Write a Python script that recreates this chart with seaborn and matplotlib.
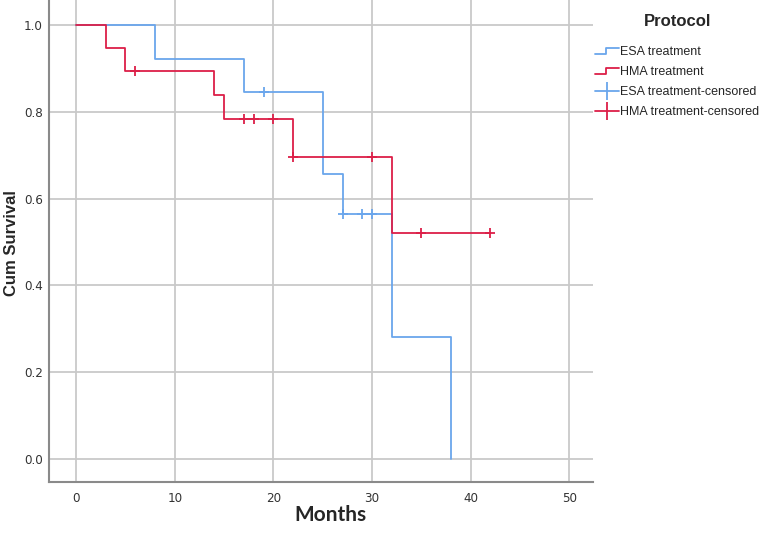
import numpy as np
import pandas as pd
import matplotlib
matplotlib.use("Agg")
import matplotlib.pyplot as plt
import seaborn as sns
from matplotlib.lines import Line2D
from matplotlib.legend_handler import HandlerBase

# Kaplan-Meier step points
esa_months = [0, 8, 17, 25, 27, 32, 38]
esa_surv = [1.0, 0.923, 0.846, 0.658, 0.564, 0.282, 0.0]
hma_months = [0, 3, 5, 14, 15, 22, 32, 42]
hma_surv = [1.0, 0.947, 0.895, 0.839, 0.783, 0.697, 0.522, 0.522]

# censored observations
esa_cens_months = [19, 27, 29, 30]
esa_cens_surv = [0.846, 0.564, 0.564, 0.564]
hma_cens_months = [6, 17, 18, 20, 22, 30, 35, 42]
hma_cens_surv = [0.895, 0.783, 0.783, 0.783, 0.697, 0.697, 0.522, 0.522]

x_ticks = [0, 10, 20, 30, 40, 50]
y_ticks = [0.0, 0.2, 0.4, 0.6, 0.8, 1.0]

blue = "#6aa6ec"
red = "#dc1f48"

sns.set_style("white")
plt.rcParams['font.family'] = ['Liberation Sans', 'DejaVu Sans']

fig = plt.figure(figsize=(7.62, 5.48), dpi=100)
ax = fig.add_axes([0.0637, 0.1204, 0.7146, 0.8796])

esa = pd.DataFrame({"Months": esa_months, "Surv": esa_surv})
hma = pd.DataFrame({"Months": hma_months, "Surv": hma_surv})
sns.lineplot(data=esa, x="Months", y="Surv", drawstyle="steps-post",
             color=blue, lw=1.3, ax=ax, zorder=3)
sns.lineplot(data=hma, x="Months", y="Surv", drawstyle="steps-post",
             color=red, lw=1.3, ax=ax, zorder=3)

ax.plot(esa_cens_months, esa_cens_surv, ls="none", marker="+", ms=7.5,
        mew=1.3, color=blue, zorder=4)
ax.plot(hma_cens_months, hma_cens_surv, ls="none", marker="+", ms=7.5,
        mew=1.3, color=red, zorder=4)

ax.set_xlim(-2.8, 52.4)
ax.set_ylim(-0.053, 1.058)
ax.set_xticks(x_ticks)
ax.set_yticks(y_ticks)
ax.set_xticklabels([str(t) for t in x_ticks])
ax.set_yticklabels([f"{t:.1f}" for t in y_ticks])
ax.grid(True, color="#c9c9c9", lw=1.3)
ax.set_axisbelow(True)
for s in ["top", "right"]:
    ax.spines[s].set_visible(False)
for s in ["left", "bottom"]:
    ax.spines[s].set_color("#8a8a8a")
    ax.spines[s].set_linewidth(1.5)
ax.tick_params(axis="x", length=0, pad=7, labelcolor="#333333")
ax.tick_params(axis="y", length=0, pad=4, labelcolor="#333333")
for lab in ax.get_xticklabels() + ax.get_yticklabels():
    lab.set_family(["DejaVu Sans", "Liberation Sans"])
    lab.set_stretch("condensed")
    lab.set_fontsize(9.5)

ax.set_xlabel("")
ax.set_ylabel("")
fig.text(330 / 762, 1 - 515 / 548, "Months", fontsize=15, fontweight="bold",
         family=["Lato", "DejaVu Sans"], ha="center", va="center")
fig.text(12 / 762, 1 - 243 / 548, "Cum Survival", fontsize=12, fontweight="bold",
         rotation=90, ha="center", va="center")


class StepHandler(HandlerBase):
    def create_artists(self, legend, orig_handle, xdescent, ydescent,
                       width, height, fontsize, trans):
        xs = np.array([0, 0.45, 0.45, 1.0]) * width - xdescent
        ys = np.array([0.1, 0.1, 0.8, 0.8]) * height - ydescent
        ln = Line2D(xs, ys, color=orig_handle.get_color(), lw=1.3, transform=trans)
        return [ln]


h1 = Line2D([], [], color=blue)
h2 = Line2D([], [], color=red)
h3 = Line2D([0], [0], color=blue, lw=1.3, marker="|", ms=13, mew=1.3)
h4 = Line2D([0], [0], color=red, lw=1.3, marker="|", ms=13, mew=1.3)
leg = fig.legend([h1, h2, h3, h4],
                 ["ESA treatment", "HMA treatment", "ESA treatment-censored",
                  "HMA treatment-censored"],
                 handler_map={h1: StepHandler(), h2: StepHandler()},
                 title="Protocol", loc="upper left", bbox_to_anchor=(0.781, 0.974),
                 frameon=False, fontsize=9, handlelength=1.9, handletextpad=0.1,
                 labelspacing=0.65, borderaxespad=0, borderpad=0)
leg.get_title().set_fontweight("bold")
leg.get_title().set_fontsize(12)
leg._legend_box.sep = 12

fig.savefig("out.png", dpi=100)
